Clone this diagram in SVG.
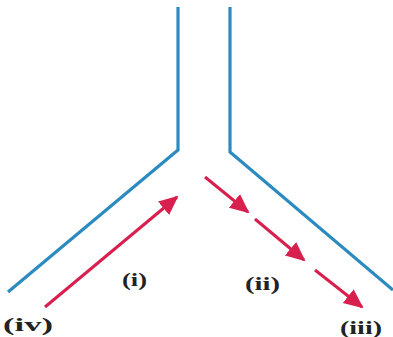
<svg xmlns="http://www.w3.org/2000/svg" width="393" height="337" viewBox="0 0 393 337">
<style>
.wall{fill:none;stroke:#2b8ac0;stroke-width:3.2;stroke-linejoin:miter}
.flow{fill:none;stroke:#d8204f;stroke-width:3}
.lbl{font-family:"Liberation Serif","DejaVu Serif",serif;font-weight:bold;font-size:18px;fill:#222}
</style>
<defs>
<marker id="ah" viewBox="0 0 10 10" refX="9" refY="5" markerWidth="6.5" markerHeight="6.5" orient="auto" markerUnits="strokeWidth">
<path d="M0,0.5 L10,5 L0,9.5 z" fill="#d8204f"/>
</marker>
</defs>
<rect width="393" height="337" fill="#fff"/>
<g id="walls">
<polyline class="wall" points="178,7 178,150 8,292"/>
<polyline class="wall" points="230,7 230,152 393,290"/>
</g>
<g id="connectors">
<line class="flow" x1="45" y1="307" x2="177" y2="197" marker-end="url(#ah)"/>
<line class="flow" x1="205" y1="177" x2="248" y2="212" marker-end="url(#ah)"/>
<line class="flow" x1="255" y1="219" x2="304" y2="260" marker-end="url(#ah)"/>
<line class="flow" x1="315" y1="270" x2="362" y2="307" marker-end="url(#ah)"/>
</g>
<g id="labels">
<text class="lbl" x="122" y="286" textLength="25" lengthAdjust="spacingAndGlyphs">(i)</text>
<text class="lbl" x="245" y="290" textLength="35" lengthAdjust="spacingAndGlyphs">(ii)</text>
<text class="lbl" x="3" y="331" textLength="50" lengthAdjust="spacingAndGlyphs">(iv)</text>
<text class="lbl" x="340" y="334" textLength="42" lengthAdjust="spacingAndGlyphs">(iii)</text>
</g>
</svg>
